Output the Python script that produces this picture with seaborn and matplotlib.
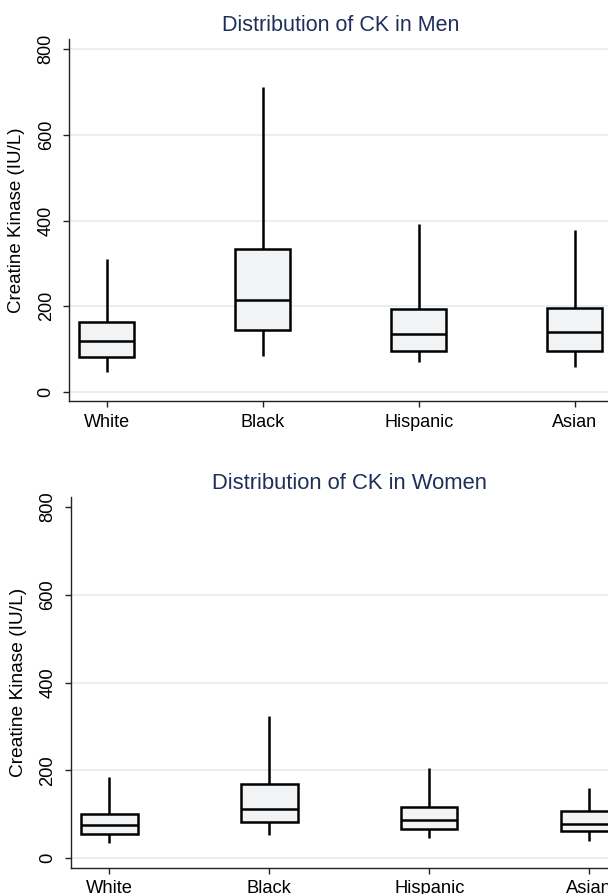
import matplotlib.pyplot as plt
import pandas as pd
import seaborn as sns

# Box summaries (min, q1, median, q3, max per group)
groups = ["White", "Black", "Hispanic", "Asian"]

men_min = [47, 84, 69, 59]
men_q1 = [82, 145, 96, 96]
men_med = [120, 215, 135, 140]
men_q3 = [164, 334, 194, 196]
men_max = [311, 712, 393, 378]

women_min = [35, 53, 46, 40]
women_q1 = [54, 82, 66, 61]
women_med = [76, 113, 86, 79]
women_q3 = [101, 169, 116, 107]
women_max = [186, 323, 205, 161]

y_ticks = [0, 200, 400, 600, 800]

TITLE_COL = "#1e2f5a"
GRID_COL = "#e4eff3"
BOX_FILL = "#f2f3f5"

sns.set_style("white")
plt.rcParams["font.family"] = ["Liberation Sans", "DejaVu Sans"]
plt.rcParams["text.color"] = "black"
plt.rcParams["axes.labelcolor"] = "black"
plt.rcParams["xtick.color"] = "black"
plt.rcParams["ytick.color"] = "black"


# five values per group -> quartiles come out exactly as read
def five_num(mins, q1s, meds, q3s, maxs):
    rows = []
    for g, vals in zip(groups, zip(mins, q1s, meds, q3s, maxs)):
        for v in vals:
            rows.append({"group": g, "ck": v})
    return pd.DataFrame(rows)


def plot_panel(ax, df, title, top_grid=True, s=1.0):
    sns.boxplot(data=df, x="group", y="ck", order=groups, ax=ax,
                whis=(0, 100), width=0.353, color=BOX_FILL, saturation=1,
                linecolor="black", linewidth=1.8, showcaps=False,
                showfliers=False)
    ax.set_xlim(-0.24, 3.24)
    ax.set_ylim(-21.7, 822.6)
    ax.set_yticks(y_ticks)
    ax.set_yticklabels([str(t) for t in y_ticks], rotation=90, va="center",
                       fontsize=13 * s)
    ax.set_xticks(range(len(groups)))
    ax.set_xticklabels(groups, fontsize=13 * s)
    ax.set_xlabel("")
    ax.set_ylabel("Creatine Kinase (IU/L)", fontsize=13.5 * s, labelpad=9)
    ax.set_title(title, color=TITLE_COL, fontsize=15.5 * s, pad=6)
    ax.set_axisbelow(True)
    ax.yaxis.grid(True, color=GRID_COL, linewidth=1.3)
    ax.xaxis.grid(False)
    if not top_grid:
        ax.get_ygridlines()[-1].set_visible(False)
    for side in ["top", "right"]:
        ax.spines[side].set_visible(False)
    for side in ["left", "bottom"]:
        ax.spines[side].set_color("#222222")
        ax.spines[side].set_linewidth(1.0)
    ax.tick_params(axis="y", length=4.5, width=1, pad=6, color="#222222",
                   labelcolor="black", left=True)
    ax.tick_params(axis="x", length=4, width=1, pad=5, color="#222222",
                   labelcolor="black", bottom=True)


men = five_num(men_min, men_q1, men_med, men_q3, men_max)
women = five_num(women_min, women_q1, women_med, women_q3, women_max)

fig = plt.figure(figsize=(6.08, 8.94), dpi=100)
ax1 = fig.add_axes([0.114, 0.5511, 0.893, 0.4049])
ax2 = fig.add_axes([0.1168, 0.0294, 0.9153, 0.4145])

plot_panel(ax1, men, "Distribution of CK in Men")
plot_panel(ax2, women, "Distribution of CK in Women", top_grid=False, s=1.02)

fig.savefig("out.png", dpi=100)
